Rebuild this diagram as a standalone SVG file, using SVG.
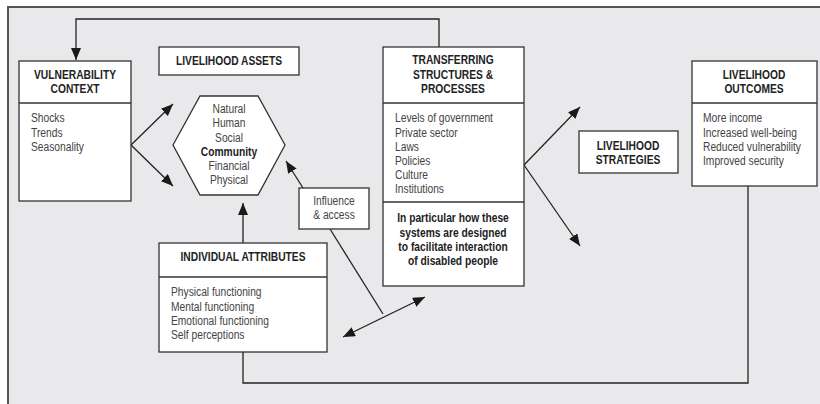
<svg xmlns="http://www.w3.org/2000/svg" width="820" height="404" viewBox="0 0 820 404">
<defs>
<marker id="ah" markerUnits="userSpaceOnUse" markerWidth="13" markerHeight="11" refX="12" refY="5" orient="auto-start-reverse">
<path d="M0,0 L12,5 L0,10 z" fill="#1a1a1a"/>
</marker>
<style>
.box{fill:#fff;stroke:#333;stroke-width:1.3}
.div{stroke:#333;stroke-width:1.3;fill:none}
.con{stroke:#222;stroke-width:1.3;fill:none}
text{font-family:"Liberation Sans",Arial,sans-serif;font-size:12.5px;fill:#444}
.h{font-weight:bold;fill:#222;text-anchor:middle}
.c{text-anchor:middle}
.b{font-weight:bold;fill:#222}
</style>
</defs>
<rect x="0" y="0" width="820" height="404" fill="#fff"/>
<rect x="8" y="7" width="812" height="397" fill="#e9e9eb"/>
<path d="M8,404 V7 H820" fill="none" stroke="#555" stroke-width="2"/>

<g id="connectors">
<polyline class="con" points="439,47 439,19 76,19 76,60" marker-end="url(#ah)"/>
<line class="con" x1="131" y1="145" x2="173" y2="104" marker-end="url(#ah)"/>
<line class="con" x1="131" y1="145" x2="173" y2="186" marker-end="url(#ah)"/>
<line class="con" x1="303" y1="188" x2="286" y2="161" marker-end="url(#ah)"/>
<line class="con" x1="243" y1="243" x2="243" y2="203" marker-end="url(#ah)"/>
<line class="con" x1="330" y1="229" x2="383" y2="314"/>
<line class="con" x1="343" y1="337" x2="425" y2="297" marker-start="url(#ah)" marker-end="url(#ah)"/>
<line class="con" x1="524" y1="165" x2="580" y2="107" marker-end="url(#ah)"/>
<line class="con" x1="524" y1="165" x2="580" y2="246" marker-end="url(#ah)"/>
<polyline class="con" points="243,352 243,383 748,383 748,186"/>
</g>

<g id="vulnerability-context">
<rect class="box" x="19" y="61" width="112" height="140"/>
<line class="div" x1="19" y1="103" x2="131" y2="103"/>
<g transform="translate(75,0) scale(.82,1)">
<text class="h" x="0" y="79">VULNERABILITY</text>
<text class="h" x="0" y="93">CONTEXT</text>
</g>
<g transform="translate(31,0) scale(.82,1)">
<text x="0" y="122">Shocks</text>
<text x="0" y="137">Trends</text>
<text x="0" y="151">Seasonality</text>
</g>
</g>

<g id="livelihood-assets">
<rect class="box" x="159" y="47" width="140" height="28"/>
<g transform="translate(229,0) scale(.82,1)">
<text class="h" x="0" y="65">LIVELIHOOD ASSETS</text>
</g>
</g>

<g id="assets-hexagon">
<polygon class="box" points="173,145 200,96 258,96 285,145 258,195 200,195"/>
<g transform="translate(229,0) scale(.82,1)">
<text class="c" x="0" y="113">Natural</text>
<text class="c" x="0" y="127">Human</text>
<text class="c" x="0" y="142">Social</text>
<text class="c b" x="0" y="156">Community</text>
<text class="c" x="0" y="170">Financial</text>
<text class="c" x="0" y="184">Physical</text>
</g>
</g>

<g id="influence-access">
<rect class="box" x="299" y="188" width="70" height="41"/>
<g transform="translate(334,0) scale(.82,1)">
<text class="c" x="0" y="205">Influence</text>
<text class="c" x="0" y="219">&amp; access</text>
</g>
</g>

<g id="individual-attributes">
<rect class="box" x="159" y="243" width="168" height="109"/>
<line class="div" x1="159" y1="277" x2="327" y2="277"/>
<g transform="translate(243,0) scale(.82,1)">
<text class="h" x="0" y="261">INDIVIDUAL ATTRIBUTES</text>
</g>
<g transform="translate(171,0) scale(.82,1)">
<text x="0" y="296">Physical functioning</text>
<text x="0" y="311">Mental functioning</text>
<text x="0" y="325">Emotional functioning</text>
<text x="0" y="339">Self perceptions</text>
</g>
</g>

<g id="transferring-structures">
<rect class="box" x="383" y="47" width="141" height="239"/>
<line class="div" x1="383" y1="103" x2="524" y2="103"/>
<line class="div" x1="383" y1="202" x2="524" y2="202"/>
<g transform="translate(453,0) scale(.82,1)">
<text class="h" x="0" y="64">TRANSFERRING</text>
<text class="h" x="0" y="79">STRUCTURES &amp;</text>
<text class="h" x="0" y="93">PROCESSES</text>
<text class="h" x="0" y="222">In particular how these</text>
<text class="h" x="0" y="237">systems are designed</text>
<text class="h" x="0" y="251">to facilitate interaction</text>
<text class="h" x="0" y="265">of disabled people</text>
</g>
<g transform="translate(395,0) scale(.82,1)">
<text x="0" y="122">Levels of government</text>
<text x="0" y="137">Private sector</text>
<text x="0" y="151">Laws</text>
<text x="0" y="165">Policies</text>
<text x="0" y="179">Culture</text>
<text x="0" y="193">Institutions</text>
</g>
</g>

<g id="livelihood-strategies">
<rect class="box" x="579" y="131" width="99" height="42"/>
<g transform="translate(628,0) scale(.82,1)">
<text class="h" x="0" y="150">LIVELIHOOD</text>
<text class="h" x="0" y="164">STRATEGIES</text>
</g>
</g>

<g id="livelihood-outcomes">
<rect class="box" x="692" y="61" width="125" height="125"/>
<line class="div" x1="692" y1="103" x2="817" y2="103"/>
<g transform="translate(754,0) scale(.82,1)">
<text class="h" x="0" y="79">LIVELIHOOD</text>
<text class="h" x="0" y="93">OUTCOMES</text>
</g>
<g transform="translate(703,0) scale(.82,1)">
<text x="0" y="122">More income</text>
<text x="0" y="137">Increased well-being</text>
<text x="0" y="151">Reduced vulnerability</text>
<text x="0" y="165">Improved security</text>
</g>
</g>
</svg>
